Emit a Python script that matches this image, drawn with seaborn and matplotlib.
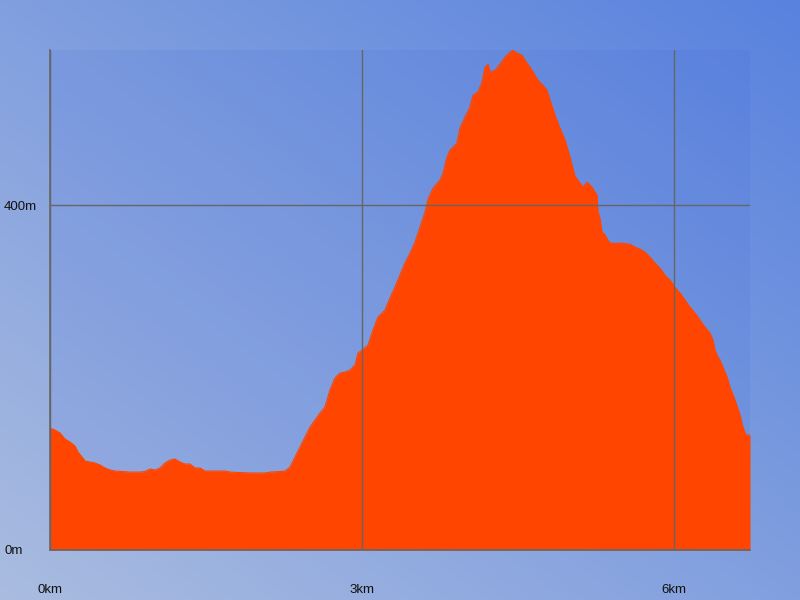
import numpy as np
import pandas as pd
import seaborn as sns
import matplotlib
matplotlib.use('Agg')
import matplotlib.pyplot as plt

# Elevation profile
dist_km = [0.000, 0.048, 0.096, 0.144, 0.192, 0.240, 0.269, 0.308, 0.337, 0.385,
           0.433, 0.481, 0.529, 0.577, 0.625, 0.769, 0.865, 0.913, 0.962, 1.010,
           1.058, 1.106, 1.154, 1.202, 1.250, 1.298, 1.346, 1.394, 1.442, 1.490,
           1.683, 1.731, 1.827, 1.923, 2.067, 2.115, 2.212, 2.260, 2.308, 2.356,
           2.404, 2.452, 2.500, 2.548, 2.596, 2.644, 2.692, 2.740, 2.788, 2.837,
           2.885, 2.933, 2.962, 3.000, 3.058, 3.106, 3.154, 3.221, 3.269, 3.317,
           3.365, 3.413, 3.462, 3.510, 3.558, 3.606, 3.635, 3.683, 3.750, 3.779,
           3.817, 3.846, 3.913, 3.942, 3.990, 4.038, 4.067, 4.115, 4.154, 4.183,
           4.212, 4.231, 4.279, 4.327, 4.375, 4.423, 4.452, 4.490, 4.538, 4.587,
           4.635, 4.692, 4.740, 4.779, 4.808, 4.856, 4.904, 4.952, 5.000, 5.048,
           5.096, 5.125, 5.163, 5.212, 5.260, 5.269, 5.288, 5.308, 5.337, 5.365,
           5.385, 5.481, 5.577, 5.625, 5.673, 5.721, 5.769, 5.817, 5.865, 5.913,
           5.962, 6.010, 6.058, 6.106, 6.154, 6.202, 6.250, 6.298, 6.346, 6.375,
           6.394, 6.423, 6.442, 6.471, 6.510, 6.538, 6.587, 6.635, 6.663, 6.692,
           6.731]
elev_m = [141.4, 139.1, 135.7, 128.7, 125.2, 120.6, 113.6, 107.8, 103.2, 102.0,
          100.9, 98.6, 95.1, 92.8, 91.6, 90.4, 90.4, 91.0, 93.9, 92.8,
          95.1, 100.9, 104.3, 105.5, 102.0, 99.7, 99.7, 95.1, 95.1, 91.6,
          91.6, 90.4, 89.9, 89.3, 89.3, 90.4, 91.0, 91.6, 96.2, 107.8,
          119.4, 131.0, 142.6, 150.7, 158.8, 165.8, 185.5, 199.4, 205.2, 206.4,
          208.7, 214.5, 228.4, 231.9, 237.7, 255.1, 270.1, 278.3, 292.2, 304.9,
          318.8, 332.8, 344.3, 357.1, 374.5, 391.9, 406.9, 419.7, 429.0, 437.1,
          455.6, 463.8, 471.9, 489.3, 502.0, 513.6, 527.5, 531.0, 542.6, 560.0,
          563.5, 554.2, 556.5, 563.5, 571.6, 577.4, 579.7, 576.2, 573.9, 564.6,
          556.5, 544.9, 539.1, 533.3, 521.7, 504.3, 489.3, 475.4, 455.6, 433.6,
          425.5, 420.9, 426.7, 420.9, 411.6, 391.9, 384.9, 368.7, 365.2, 359.4,
          355.9, 355.9, 354.8, 351.3, 349.0, 345.5, 339.7, 332.8, 327.0, 318.8,
          313.0, 304.9, 298.0, 289.9, 281.7, 274.8, 266.7, 258.6, 251.6, 243.5,
          231.9, 223.8, 220.3, 212.2, 200.6, 189.0, 173.9, 156.5, 142.6, 133.3,
          133.3]

x_ticks = [0, 3, 6]
x_labels = ['0km', '3km', '6km']
y_ticks = [0, 400]
y_labels = ['0m', '400m']

sns.set_style('white')
plt.rcParams['font.family'] = ['Liberation Sans', 'DejaVu Sans']

df = pd.DataFrame({'km': dist_km, 'm': elev_m})

fig = plt.figure(figsize=(8, 6), dpi=100)

# diagonal gradient background
rows, cols = np.mgrid[0:600, 0:800]
t = (cols / 800 + (1 - rows / 600)) / 2
c0 = np.array([170, 188, 224]) / 255
c1 = np.array([88, 130, 222]) / 255
grad = c0 + (c1 - c0) * t[..., None]
bg = fig.add_axes([0, 0, 1, 1])
bg.imshow(grad, aspect='auto')
bg.axis('off')

ax = fig.add_axes([50 / 800, 50 / 600, 700 / 800, 500 / 600])
ax.set_facecolor((0.25, 0.4, 0.85, 0.12))

ax.fill_between(df['km'], df['m'], color='#ff4500', lw=0)
sns.lineplot(data=df, x='km', y='m', ax=ax, color='#ff4500', lw=0.8)

ax.set_xlim(0, 6.731)
ax.set_ylim(0, 580)
ax.set_xlabel('')
ax.set_ylabel('')

ax.set_xticks(x_ticks, x_labels)
ax.set_yticks(y_ticks, y_labels)
for lab in ax.get_yticklabels():
    lab.set_ha('left')
ax.tick_params(axis='y', pad=33, length=0, labelsize=9.5, labelcolor='#111111')
ax.tick_params(axis='x', pad=24.5, length=0, labelsize=9.5, labelcolor='#111111')

# grid sits on top of the filled profile
ax.grid(True, color='#666666', lw=1)
ax.set_axisbelow(False)
for side in ['top', 'right']:
    ax.spines[side].set_visible(False)
for side in ['left', 'bottom']:
    ax.spines[side].set_color('#666666')
    ax.spines[side].set_linewidth(1.2)

fig.savefig('out.png', dpi=100)
